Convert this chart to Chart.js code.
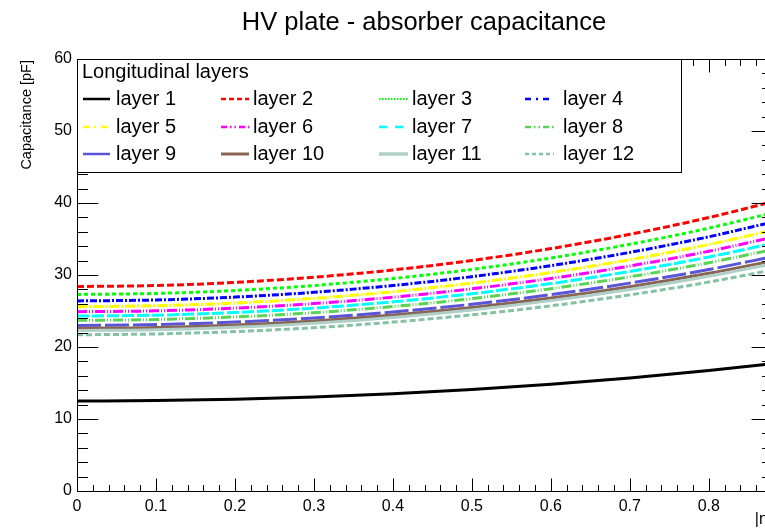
<!DOCTYPE html>
<html><head><meta charset="utf-8">
<script src="https://cdn.jsdelivr.net/npm/chart.js@4.4.1/dist/chart.umd.min.js"></script>
<style>html,body{margin:0;padding:0;background:#fff;overflow:hidden;width:765px;height:528px}canvas{display:block}</style>
</head><body><canvas id="c" width="800" height="528"></canvas>
<script>
// ---- data ----
const etaValues = [0, 0.1, 0.2, 0.3, 0.4, 0.5, 0.6, 0.7, 0.8, 0.88];
const layerNames = ['layer 1','layer 2','layer 3','layer 4','layer 5','layer 6','layer 7','layer 8','layer 9','layer 10','layer 11','layer 12'];
const layer1  = [12.5, 12.56, 12.75, 13.07, 13.51, 14.10, 14.82, 15.69, 16.72, 17.68];
const layer2  = [28.4, 28.54, 28.97, 29.69, 30.70, 32.02, 33.67, 35.65, 37.98, 40.16];
const layer3  = [27.3, 27.44, 27.85, 28.54, 29.51, 30.78, 32.36, 34.27, 36.51, 38.61];
const layer4  = [26.4, 26.53, 26.93, 27.60, 28.54, 29.77, 31.30, 33.14, 35.31, 37.33];
const layer5  = [25.6, 25.73, 26.11, 26.76, 27.68, 28.87, 30.35, 32.13, 34.24, 36.20];
const layer6  = [24.9, 25.02, 25.40, 26.03, 26.92, 28.08, 29.52, 31.25, 33.30, 35.21];
const layer7  = [24.3, 24.42, 24.79, 25.40, 26.27, 27.40, 28.81, 30.50, 32.50, 34.37];
const layer8  = [23.7, 23.82, 24.18, 24.77, 25.62, 26.72, 28.10, 29.75, 31.70, 33.52];
const layer9  = [23.0, 23.12, 23.46, 24.04, 24.87, 25.93, 27.27, 28.87, 30.76, 32.53];
const layer10 = [22.6, 22.71, 23.05, 23.62, 24.43, 25.48, 26.79, 28.37, 30.23, 31.96];
const layer11 = [22.3, 22.41, 22.75, 23.31, 24.11, 25.15, 26.44, 27.99, 29.82, 31.54];
const layer12 = [21.7, 21.81, 22.14, 22.68, 23.46, 24.47, 25.72, 27.24, 29.02, 30.69];
const xTickLabels = ['0','0.1','0.2','0.3','0.4','0.5','0.6','0.7','0.8'];
const yTickLabels = ['0','10','20','30','40','50','60'];
const titleText = 'HV plate - absorber capacitance';
const xTitle = '|\u03b7|';
const yTitle = 'Capacitance [pF]';
const legendTitle = 'Longitudinal layers';

// ---- styles ----
const FONT = "'Liberation Sans', Arial, Helvetica, sans-serif";
const colors = ['#000000','#ff0000','#00ff00','#0000ff','#ffff00','#ff00ff','#00ffff','#59d454','#5954d8','#876657','#b0cfc7','#85c2a3'];
const plotDash = [[],[7,3],[4,3],[7,2,2,2],[10,2,2,2],[10,2,1,2,1,2],[12,3],[10,2,1,2,1,2],[24,4],[],[],[6,3]];
const legendDash = [[],[5,3],[1.5,1.5],[6,5,2,5],[6,5,2,5],[6,3,1.5,3,1.5,3],[8,8],[6,3,1.5,3,1.5,3],[],[],[],[4,3]];
const legendWidth = [2.5,2.5,2,2.5,2.5,2.5,2.5,2.5,2.5,3,3.5,2.5];
const allLayers = [layer1,layer2,layer3,layer4,layer5,layer6,layer7,layer8,layer9,layer10,layer11,layer12];

const datasets = allLayers.map((arr, i) => ({
  label: layerNames[i],
  data: arr.map((v, k) => ({x: etaValues[k], y: v})),
  borderColor: colors[i],
  borderWidth: 3,
  borderDash: plotDash[i],
  pointRadius: 0,
  fill: false,
  tension: 0.4,
  cubicInterpolationMode: 'monotone',
  order: 12 - i
}));

function seg(ctx, x1, y1, x2, y2){ ctx.beginPath(); ctx.moveTo(x1,y1); ctx.lineTo(x2,y2); ctx.stroke(); }

const rootFrame = {
  id: 'rootFrame',
  afterDatasetsDraw(chart){
    const {ctx, chartArea: a, scales: {x, y}} = chart;
    ctx.save();
    ctx.strokeStyle = '#000'; ctx.lineWidth = 1; ctx.setLineDash([]);
    const L = a.left + 0.5, R = Math.round(a.right) + 0.5, T = a.top + 0.5, B = Math.round(a.bottom) + 0.5;
    ctx.strokeRect(L, T, R - L, B - T);
    const w = R - L, h = B - T;
    for (let v = 0; v <= 60; v += 2) {
      const py = Math.round(y.getPixelForValue(v)) + 0.5;
      const len = (v % 10 === 0) ? 0.03 * w : 0.015 * w;
      seg(ctx, L, py, L + len, py);
      seg(ctx, R, py, R - len, py);
    }
    for (let i = 0; i <= 44; i++) {
      const px = Math.round(x.getPixelForValue(i * 0.02)) + 0.5;
      const len = (i % 5 === 0) ? 0.03 * h : 0.015 * h;
      seg(ctx, px, B, px, B - len);
      seg(ctx, px, T, px, T + len);
    }
    ctx.restore();
  },
  afterDraw(chart){
    const {ctx, chartArea: a} = chart;
    ctx.save();
    // title
    ctx.fillStyle = '#000';
    ctx.font = '25.5px ' + FONT;
    ctx.textAlign = 'center'; ctx.textBaseline = 'alphabetic';
    ctx.fillText(titleText, 424, 30);
    // y title
    ctx.save();
    ctx.font = '14.5px ' + FONT;
    ctx.translate(31, a.top + 1);
    ctx.rotate(-Math.PI / 2);
    ctx.textAlign = 'right'; ctx.textBaseline = 'alphabetic';
    ctx.fillText(yTitle, 0, 0);
    ctx.restore();
    // x title
    ctx.font = '16px ' + FONT;
    ctx.textAlign = 'right'; ctx.textBaseline = 'middle';
    ctx.fillText(xTitle, a.right, 520);
    // legend
    const bx = a.left + 0.5, by = a.top + 0.5, bw = 681 - a.left, bh = 172 - a.top;
    ctx.fillStyle = '#fff';
    ctx.fillRect(bx, by, bw, bh);
    ctx.strokeStyle = '#000'; ctx.lineWidth = 1;
    ctx.strokeRect(bx, by, bw, bh);
    ctx.fillStyle = '#000';
    ctx.font = '20px ' + FONT;
    ctx.textAlign = 'left'; ctx.textBaseline = 'middle';
    ctx.fillText(legendTitle, 82, 72);
    const colSample = [[83,110],[221,249],[379,408],[525,554]];
    const colText = [116, 253, 412, 563];
    const rowY = [99, 127, 154];
    chart.data.datasets.forEach((ds, i) => {
      const r = Math.floor(i / 4), c = i % 4;
      const yy = rowY[r];
      ctx.strokeStyle = ds.borderColor;
      ctx.lineWidth = legendWidth[i];
      ctx.setLineDash(legendDash[i]);
      seg(ctx, colSample[c][0], yy, colSample[c][1], yy);
      ctx.setLineDash([]);
      ctx.fillStyle = '#000';
      ctx.fillText(ds.label, colText[c], yy);
    });
    ctx.restore();
  }
};

new Chart(document.getElementById('c'), {
  type: 'line',
  data: { datasets },
  options: {
    responsive: false,
    animation: false,
    devicePixelRatio: 1,
    layout: { padding: { top: 59, right: 28, left: 0, bottom: 0 } },
    plugins: { legend: { display: false }, tooltip: { enabled: false }, title: { display: false } },
    scales: {
      x: {
        type: 'linear', min: 0, max: 0.88,
        grid: { display: false, drawTicks: false },
        border: { display: false },
        ticks: {
          stepSize: 0.1, includeBounds: false, autoSkip: false, maxRotation: 0,
          padding: 6, color: '#000', font: { family: FONT, size: 16 },
          callback: (v, i) => xTickLabels[i] !== undefined ? xTickLabels[i] : ''
        },
        afterFit: s => { s.height = 37; }
      },
      y: {
        type: 'linear', min: 0, max: 60,
        grid: { display: false, drawTicks: false },
        border: { display: false },
        ticks: {
          stepSize: 10, padding: 5, color: '#000', font: { family: FONT, size: 16 },
          callback: (v, i) => yTickLabels[i] !== undefined ? yTickLabels[i] : ''
        },
        afterFit: s => { s.width = 77; }
      }
    }
  },
  plugins: [rootFrame]
});
</script>
</body></html>
